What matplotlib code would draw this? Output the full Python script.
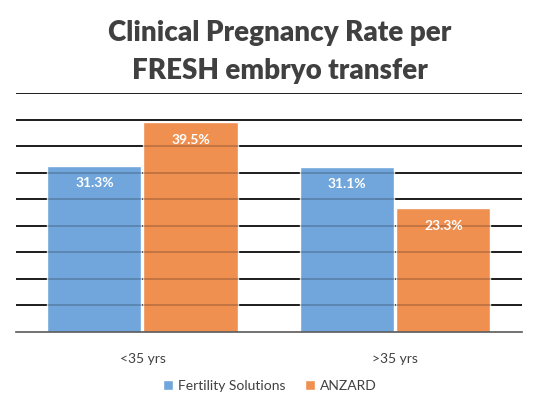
import matplotlib
matplotlib.use("Agg")
import matplotlib.pyplot as plt
import numpy as np

plt.rcParams['font.family'] = ['Lato', 'DejaVu Sans']

categories = ["<35 yrs", ">35 yrs"]
series_names = ["Fertility Solutions", "ANZARD"]
fertility = [31.3, 31.1]
anzard = [39.5, 23.3]
colors = ["#70A6DB", "#EF9051"]

fig = plt.figure(figsize=(5.38, 4.07), dpi=100)
ax = fig.add_axes([0.0297, 0.1843, 0.9403, 0.5872])

x = np.arange(len(categories))
w = 0.372
grid = np.arange(5, 46, 5)

# black gridlines behind, faint ones on top so they show through the bars
for g in grid:
    ax.axhline(g, color="black", lw=1.2, zorder=1)
    ax.axhline(g, color="black", lw=1.2, alpha=0.22, zorder=4)

for i, (vals, name) in enumerate(zip([fertility, anzard], series_names)):
    pos = x + (i - 0.5) * (w + 0.008)
    bars = ax.bar(pos, vals, w, color=colors[i], edgecolor="white", lw=1,
                  label=name, zorder=2)
    for b, v in zip(bars, vals):
        ax.annotate("%.1f%%" % v, (b.get_x() + b.get_width() / 2, v),
                    xytext=(0, -12.5), textcoords="offset points",
                    ha="center", va="center", color="white",
                    fontsize=10, fontweight="bold", zorder=5)

ax.set_xlim(-0.5, 1.5)
ax.set_ylim(0, 45)
ax.set_yticks([])
ax.set_xticks(x)
ax.set_xticklabels(categories, fontsize=10, color="#404040")
ax.tick_params(axis="x", length=0, pad=15)
for s in ["top", "left", "right"]:
    ax.spines[s].set_visible(False)
ax.spines["bottom"].set_color("#595959")
ax.spines["bottom"].set_linewidth(1.2)
ax.spines["bottom"].set_zorder(6)

fig.text(0.52, 0.918, "Clinical Pregnancy Rate per", ha="center", va="center",
         fontsize=20, fontweight="heavy", color="#404040")
fig.text(0.52, 0.826, "FRESH embryo transfer", ha="center", va="center",
         fontsize=20, fontweight="heavy", color="#404040")

fig.legend(loc="center", bbox_to_anchor=(0.502, 0.052), ncol=2, frameon=False,
           fontsize=10, handlelength=0.7, handleheight=0.7, handletextpad=0.4,
           columnspacing=1.4, labelcolor="#404040")

fig.savefig("out.png", dpi=100)
